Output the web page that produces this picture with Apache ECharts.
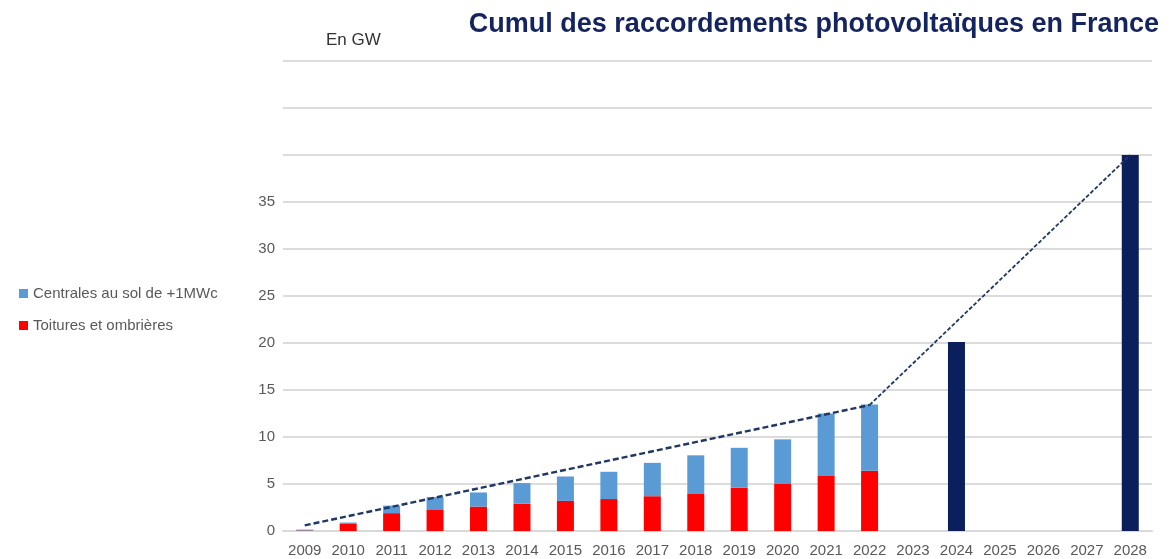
<!DOCTYPE html>
<html>
<head>
<meta charset="utf-8">
<script src="https://cdn.jsdelivr.net/npm/echarts@6/dist/echarts.min.js"></script>
<style>
  html, body { margin: 0; padding: 0; background: #fff; }
  #chart { width: 1170px; height: 559px; }
</style>
</head>
<body>
<div id="chart"></div>
<script>
const years = ['2009', '2010', '2011', '2012', '2013', '2014', '2015', '2016', '2017', '2018',
  '2019', '2020', '2021', '2022', '2023', '2024', '2025', '2026', '2027', '2028']

// GW
const toitures = [0.05, 0.75, 1.9, 2.3, 2.6, 2.9, 3.2, 3.4, 3.7, 4.0, 4.6, 5.0, 5.85, 6.4, null, null, null, null, null, null]
const centrales = [0.1, 0.15, 0.8, 1.3, 1.5, 2.2, 2.6, 2.9, 3.55, 4.05, 4.25, 4.75, 6.65, 7.05, null, null, null, null, null, null]
const objectifs = [null, null, null, null, null, null, null, null, null, null, null, null, null, null, null, 20.1, null, null, null, 40]
const tendanceHist = [0.6, null, null, null, null, null, null, null, null, null, null, null, null, 13.4, null, null, null, null, null, null]
const tendanceProj = [null, null, null, null, null, null, null, null, null, null, null, null, null, 13.4, null, null, null, null, null, 40]

const yLabelMax = 35
const grey = '#595959'

const chart = echarts.init(document.getElementById('chart'))
chart.setOption({
  animation: false,
  backgroundColor: '#fff',
  textStyle: { fontFamily: 'Liberation Sans, Arial, sans-serif' },
  title: [
    {
      text: 'Cumul des raccordements photovoltaïques en France',
      right: 6,
      top: 6,
      textStyle: { fontSize: 27, fontWeight: 'bold', color: '#14245e', fontFamily: 'Liberation Sans, Arial, sans-serif' }
    },
    {
      text: 'En GW',
      left: 321,
      top: 27,
      textStyle: { fontSize: 17, fontWeight: 'normal', color: '#333' }
    }
  ],
  legend: {
    data: ['Centrales au sol de +1MWc', 'Toitures et ombrières'],
    orient: 'vertical',
    left: 14,
    top: 281,
    itemWidth: 9,
    itemHeight: 9,
    itemGap: 17,
    icon: 'rect',
    textStyle: { fontSize: 15, color: grey }
  },
  grid: { left: 283, right: 18, top: 61, bottom: 28 },
  xAxis: {
    type: 'category',
    data: years,
    axisTick: { show: false },
    axisLine: { lineStyle: { color: '#d9d9d9', width: 2 } },
    axisLabel: { color: grey, fontSize: 15, margin: 12, interval: 0 }
  },
  yAxis: {
    type: 'value',
    min: 0,
    max: 50,
    interval: 5,
    axisLine: { show: false },
    axisTick: { show: false },
    axisLabel: {
      color: grey,
      fontSize: 15,
      margin: 8,
      formatter: (v) => (v > yLabelMax ? '' : String(v))
    },
    splitLine: { lineStyle: { color: '#dcdcdc', width: 2 } }
  },
  series: [
    {
      name: 'Toitures et ombrières',
      type: 'bar',
      stack: 'total',
      barWidth: 17,
      itemStyle: { color: '#ff0000' },
      data: toitures
    },
    {
      name: 'Centrales au sol de +1MWc',
      type: 'bar',
      stack: 'total',
      barWidth: 17,
      itemStyle: { color: '#5b9bd5' },
      data: centrales
    },
    {
      name: 'Objectifs',
      type: 'bar',
      stack: 'total',
      barWidth: 18,
      itemStyle: { color: '#0b1f5c' },
      data: objectifs
    },
    {
      name: 'Tendance',
      type: 'line',
      data: tendanceHist,
      connectNulls: true,
      symbol: 'none',
      z: 5,
      lineStyle: { color: '#1f3864', width: 2.5, type: [6, 3] }
    },
    {
      name: 'Projection',
      type: 'line',
      data: tendanceProj,
      connectNulls: true,
      symbol: 'none',
      z: 5,
      lineStyle: { color: '#1f3864', width: 1.8, type: [4, 2] }
    }
  ]
})
</script>
</body>
</html>
